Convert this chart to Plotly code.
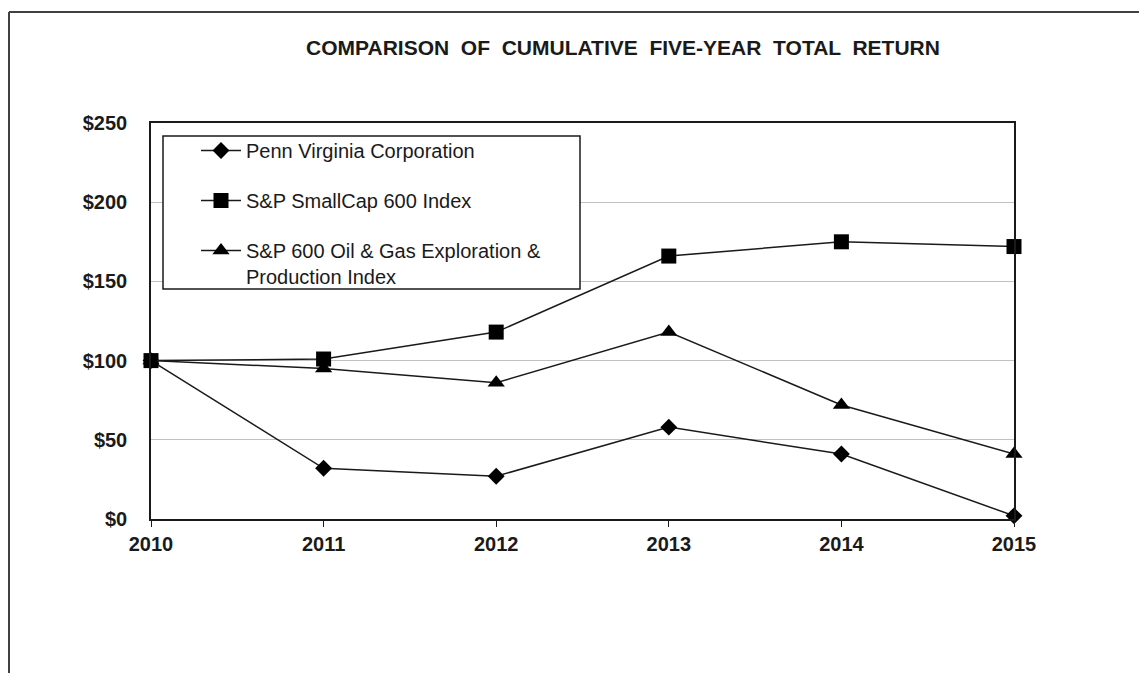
import plotly.graph_objects as go

years = [2010, 2011, 2012, 2013, 2014, 2015]
penn_virginia = [100, 32, 27, 58, 41, 2]
sp_smallcap = [100, 101, 118, 166, 175, 172]
sp_oil_gas = [100, 95, 86, 118, 72, 41]

series_names = [
    "Penn Virginia Corporation",
    "S&P SmallCap 600 Index",
    "S&P 600 Oil & Gas Exploration &<br>Production Index",
]
y_ticks = [0, 50, 100, 150, 200, 250]
y_tick_labels = ["$0", "$50", "$100", "$150", "$200", "$250"]

W, H = 1139, 673
L, R, T, B = 151, 1139 - 1014, 123, 673 - 519
pw, ph = W - L - R, H - T - B

fig = go.Figure()
specs = [
    (penn_virginia, series_names[0], "diamond", 13),
    (sp_smallcap, series_names[1], "square", 15),
    (sp_oil_gas, series_names[2], "triangle-up", 15),
]
for i, (vals, name, sym, size) in enumerate(specs):
    fig.add_trace(go.Scatter(
        x=years, y=vals, name=name, mode="lines+markers",
        legendgroup=f"g{i}",
        line=dict(color="#1a1a1a", width=1.5),
        marker=dict(symbol=sym, size=size, color="black"),
        cliponaxis=False,
    ))

def px_x(px):
    return (px - L) / pw

def px_y(py):
    return (H - B - py) / ph

# outer frame (top and left edges)
fig.add_shape(type="line", xref="paper", yref="paper",
              x0=px_x(9), x1=px_x(1139), y0=px_y(12), y1=px_y(12),
              line=dict(color="#404040", width=2))
fig.add_shape(type="line", xref="paper", yref="paper",
              x0=px_x(9), x1=px_x(9), y0=px_y(12), y1=px_y(673),
              line=dict(color="#404040", width=2))
# legend box
fig.add_shape(type="rect", xref="paper", yref="paper",
              x0=px_x(163), x1=px_x(580), y0=px_y(289), y1=px_y(136),
              line=dict(color="#1a1a1a", width=1.5), fillcolor="white",
              layer="above")

fig.update_layout(
    width=W, height=H,
    margin=dict(l=L, r=R, t=T, b=B, pad=0),
    paper_bgcolor="white", plot_bgcolor="rgba(0,0,0,0)",
    font=dict(family="Liberation Sans, Arial, sans-serif", color="#1a1a1a"),
    title=dict(
        text="COMPARISON  OF  CUMULATIVE  FIVE-YEAR  TOTAL  RETURN",
        x=623 / W, xanchor="center", y=1 - 48 / H, yanchor="middle",
        xref="container", yref="container",
        font=dict(size=21, family="Liberation Sans, Arial, sans-serif", color="#1a1a1a", weight="bold"),
    ),
    showlegend=True,
    legend=dict(
        x=px_x(196), y=px_y(131), xanchor="left", yanchor="top",
        bgcolor="rgba(0,0,0,0)", borderwidth=0,
        font=dict(size=20, color="#1a1a1a"),
        tracegroupgap=21, traceorder="grouped",
        itemwidth=40, valign="top",
    ),
    xaxis=dict(
        range=[2010, 2015], tickvals=years, ticktext=[str(y) for y in years],
        showgrid=False, zeroline=False,
        showline=True, linecolor="#1a1a1a", linewidth=1.5, mirror=True,
        ticks="outside", ticklen=6, tickcolor="#1a1a1a",
        tickfont=dict(size=20, weight="bold"),
    ),
    yaxis=dict(
        range=[0, 250], tickvals=y_ticks, ticktext=y_tick_labels,
        showgrid=True, gridcolor="#c0c0c0", gridwidth=1,
        zeroline=False,
        showline=True, linecolor="#1a1a1a", linewidth=1.5, mirror=True,
        ticks="", ticklabelstandoff=18,
        tickfont=dict(size=20, weight="bold"),
    ),
)

fig.write_html("out.html")
